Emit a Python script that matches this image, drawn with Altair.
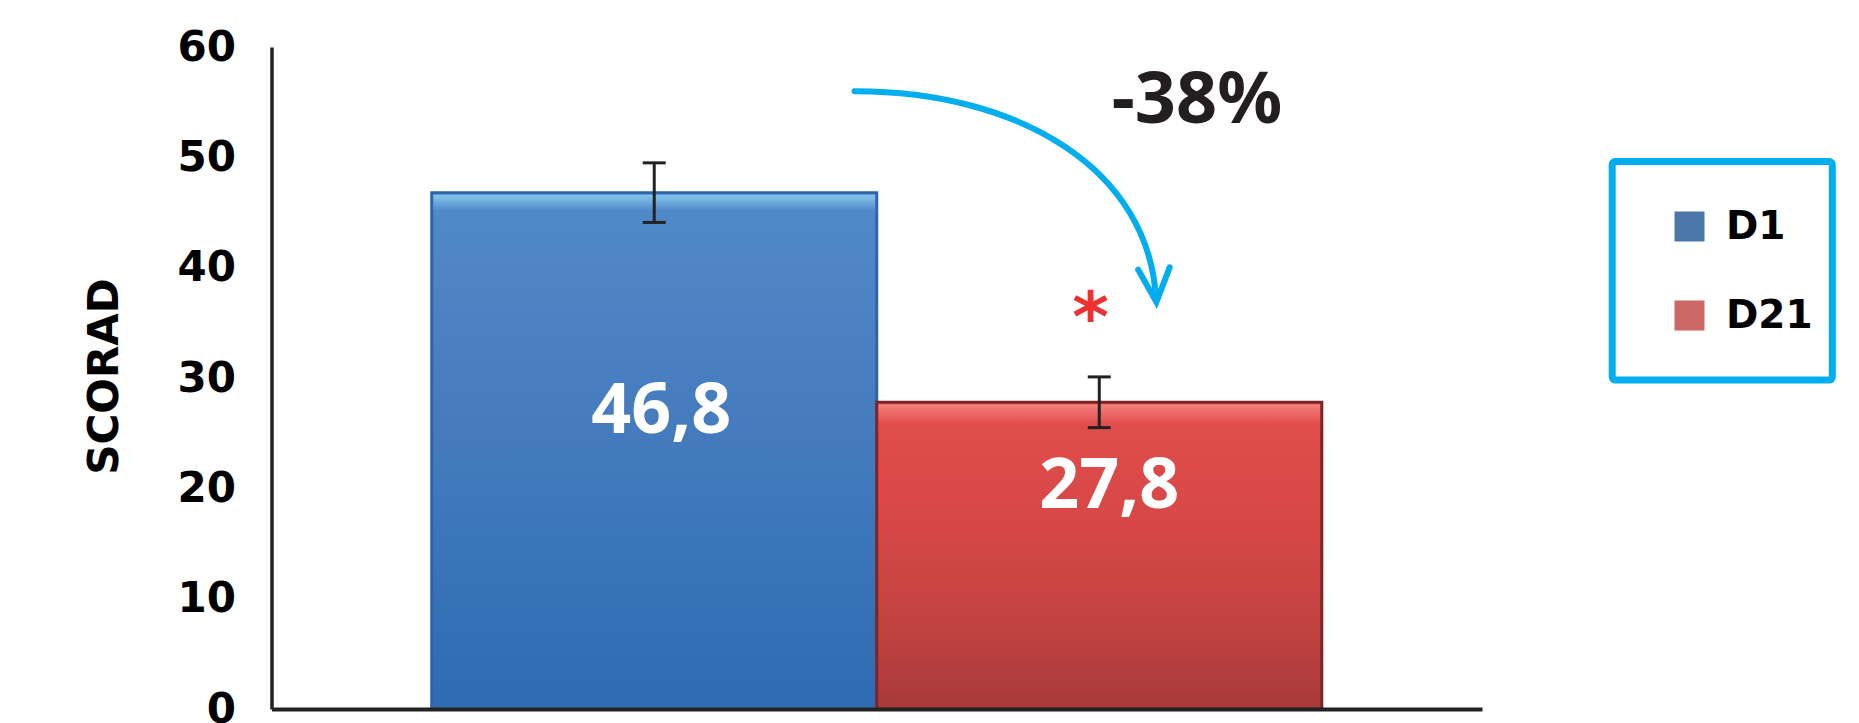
import altair as alt
import pandas as pd

# ---- data ----
days = ["D1", "D21"]
scorad = [46.8, 27.8]
sem = [2.7, 2.3]
y_ticks = [0, 10, 20, 30, 40, 50, 60]
legend_colors = ["#4A76A8", "#CC6966"]

df = pd.DataFrame({"day": days, "scorad": scorad, "sem": sem})
one = alt.Data(values=[{}])

W, H = 1210.5, 662

x_enc = alt.X(
    "day:N",
    sort=days,
    scale=alt.Scale(paddingInner=0, paddingOuter=0.36),
    axis=alt.Axis(labels=False, ticks=False, title=None, domainColor="#222222",
                  domainWidth=4, zindex=1),
)
y_scale = alt.Scale(domain=[0, 60], nice=False)
y_axis = alt.Axis(
    values=y_ticks, grid=False, ticks=False, tickSize=0,
    domainColor="#222222", domainWidth=3.5,
    labelFont="DejaVu Sans", labelFontWeight="bold", labelFontSize=42,
    labelColor="#000000", labelPadding=36,
    titleFont="DejaVu Sans", titleFontWeight="bold", titleFontSize=42,
    titleColor="#000000", titleX=-167.5, titleY=329,
    titleAlign="center", titleBaseline="middle",
)


def yq(field):
    return alt.Y(field, type="quantitative", scale=y_scale, title="SCORAD", axis=y_axis)


base = alt.Chart(df)

legend_bars = base.mark_bar().encode(
    x=x_enc,
    y=yq("scorad"),
    color=alt.Color(
        "day:N",
        scale=alt.Scale(domain=days, range=legend_colors),
        legend=alt.Legend(
            title=None, orient="none", legendX=1398.5, legendY=160,
            padding=0, symbolType="square", symbolSize=900,
            symbolStrokeWidth=0, symbolOpacity=1,
            labelFont="DejaVu Sans", labelFontWeight="bold", labelFontSize=39,
            labelColor="#000000", labelOffset=17, rowPadding=49,
        ),
    ),
)

grad_blue = alt.Gradient(
    gradient="linear", x1=0, y1=0, x2=0, y2=1,
    stops=[
        alt.GradientStop(color="#4F86C6", offset=0),
        alt.GradientStop(color="#82C2EC", offset=0.006),
        alt.GradientStop(color="#74B0E0", offset=0.015),
        alt.GradientStop(color="#5089C8", offset=0.035),
        alt.GradientStop(color="#4A80C1", offset=0.3),
        alt.GradientStop(color="#3C76BA", offset=0.65),
        alt.GradientStop(color="#2E6BB2", offset=1),
    ],
)
grad_red = alt.Gradient(
    gradient="linear", x1=0, y1=0, x2=0, y2=1,
    stops=[
        alt.GradientStop(color="#E65050", offset=0),
        alt.GradientStop(color="#F27E7C", offset=0.01),
        alt.GradientStop(color="#EE6E6C", offset=0.03),
        alt.GradientStop(color="#E04D4B", offset=0.07),
        alt.GradientStop(color="#D84846", offset=0.35),
        alt.GradientStop(color="#C44341", offset=0.7),
        alt.GradientStop(color="#A73A3A", offset=1),
    ],
)

bar_d1 = base.transform_filter(alt.datum.day == "D1").mark_bar(
    fill=grad_blue, stroke="#2F64A6", strokeWidth=3
).encode(x=x_enc, y=yq("scorad"))

bar_d21 = base.transform_filter(alt.datum.day == "D21").mark_bar(
    fill=grad_red, stroke="#7E2424", strokeWidth=3
).encode(x=x_enc, y=yq("scorad"))

err = base.transform_calculate(
    lo="datum.scorad - datum.sem", hi="datum.scorad + datum.sem"
)
err_rule = err.mark_rule(color="#222222", strokeWidth=3).encode(
    x=x_enc, y=yq("lo"), y2="hi:Q"
)
cap_lo = err.mark_tick(color="#222222", thickness=3, size=23, opacity=1).encode(
    x=x_enc, y=yq("lo")
)
cap_hi = err.mark_tick(color="#222222", thickness=3, size=23, opacity=1).encode(
    x=x_enc, y=yq("hi")
)

lab = base.transform_calculate(
    lab="replace(format(datum.scorad, '.1f'), '.', ',')"
)
text_style = dict(font="Noto Sans", fontWeight="bold", fontSize=70,
                  color="#FFFFFF", baseline="middle", align="center")
lab_d1 = lab.transform_filter(alt.datum.day == "D1").mark_text(
    dx=7, dy=219, **text_style
).encode(x=x_enc, y=yq("scorad"), text="lab:N")
lab_d21 = lab.transform_filter(alt.datum.day == "D21").mark_text(
    dx=10, dy=85, **text_style
).encode(x=x_enc, y=yq("scorad"), text="lab:N")

# ---- annotations ----
pct = alt.Chart(one).mark_text(
    text="-38%", font="Noto Sans", fontWeight="bold", fontSize=72,
    color="#231F20", align="center", baseline="middle"
).encode(x=alt.value(925.5), y=alt.value(54))

star = alt.Chart(one).mark_text(
    text="*", font="DejaVu Sans", fontWeight="bold", fontSize=70,
    color="#EE3030", align="center", baseline="alphabetic"
).encode(x=alt.value(819), y=alt.value(294))

arrow_path = ("M-145.5,-108.7 C20,-109 150,-30 156,100 "
              "M138.2,69.7 L156.4,102 L169.7,67.4")
arrow = alt.Chart(one).mark_point(
    shape=arrow_path, size=4, filled=False, stroke="#00AEEF", color="#00AEEF",
    strokeWidth=6, opacity=1, strokeCap="round", strokeJoin="miter"
).encode(x=alt.value(728.5), y=alt.value(153))

legend_box = alt.Chart(one).mark_rect(
    fillOpacity=0, stroke="#00AEEF", strokeWidth=7, cornerRadius=3
).encode(
    x=alt.value(1340.7), x2=alt.value(1560.8),
    y=alt.value(114.5), y2=alt.value(333.1)
)

chart = alt.layer(
    legend_bars, bar_d1, bar_d21, err_rule, cap_lo, cap_hi,
    lab_d1, lab_d21, pct, star, arrow, legend_box
).properties(
    width=W, height=H,
    autosize=alt.AutoSizeParams(type="none"),
    padding={"left": 271.5, "top": 47, "right": 377, "bottom": 14},
    background="#FFFFFF",
).configure_view(stroke=None)

chart.save("out.html", embed_options={"renderer": "svg", "actions": False})
